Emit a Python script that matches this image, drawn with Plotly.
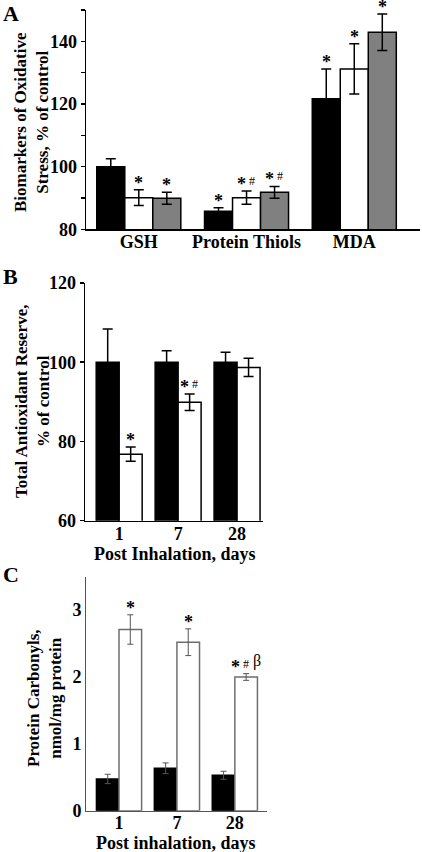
import plotly.graph_objects as go

# ---------------- data ----------------
# Panel A
a_categories = ["GSH", "Protein Thiols", "MDA"]
a_black = [100.0, 85.8, 121.7]
a_black_err = [2.5, 1.1, 9.5]
a_white = [90.1, 90.1, 131.2]
a_white_err = [2.5, 2.1, 8.0]
a_gray = [89.9, 91.8, 142.9]
a_gray_err = [1.9, 1.9, 5.8]
a_marks_black = ["", "*", "*"]
a_marks_white = ["*", "* #", "*"]
a_marks_gray = ["*", "* #", "*"]
a_yticks = [80, 90, 100, 110, 120, 130, 140, 150]
a_yticklabels = ["80", "", "100", "", "120", "", "140", ""]

# Panel B
b_categories = ["1", "7", "28"]
b_black = [100.0, 100.0, 100.0]
b_black_err = [8.4, 2.9, 2.5]
b_white = [76.8, 89.9, 98.7]
b_white_err = [1.8, 2.1, 2.3]
b_marks_white = ["*", "* #", ""]
b_yticks = [60, 80, 100, 120]

# Panel C
c_categories = ["1", "7", "28"]
c_black = [0.475, 0.635, 0.53]
c_black_err = [0.07, 0.08, 0.06]
c_white = [2.71, 2.52, 2.0]
c_white_err = [0.22, 0.20, 0.05]
c_marks_white = ["*", "*", "* # β"]
c_yticks = [0, 1, 2, 3]

# ---------------- style ----------------
W, H = 422, 852
SERIF = "Liberation Serif"
BARGAP = 0.22
MARK_STEP = 11
MARK_STYLE = {  # token -> (font size, bold, yshift)
    "*": (18, True, -5),
    "#": (12, False, 1),
    "β": (16, False, 2),
}


def px_x(p):
    return p / W


def px_y(p):
    return 1 - p / H


fig = go.Figure()
annotations = []


def add_marks(xa, ya, x, y, mark):
    tokens = mark.split()
    start = -MARK_STEP / 2 * (len(tokens) - 1)
    for k, tok in enumerate(tokens):
        size, bold, ys = MARK_STYLE[tok]
        annotations.append(dict(
            x=x, y=y, xref=xa, yref=ya,
            text=f"<b>{tok}</b>" if bold else tok, showarrow=False,
            xanchor="center", yanchor="bottom",
            xshift=start + MARK_STEP * k, yshift=ys,
            font=dict(family=SERIF, size=size, color="#000000"),
        ))


def add_group(xa, ya, cats, series, n, err_color="black", err_width=5, err_thick=1.5):
    for j, (vals, errs, fill, line_color, marks) in enumerate(series):
        fig.add_trace(go.Bar(
            x=cats, y=vals, xaxis=xa, yaxis=ya,
            marker=dict(color=fill, line=dict(color=line_color, width=1.5)),
            error_y=dict(type="data", array=errs, visible=True, color=err_color,
                         thickness=err_thick, width=err_width),
            showlegend=False, hoverinfo="skip",
        ))
        off = (j - (n - 1) / 2) * (1 - BARGAP) / n
        if marks is None:
            continue
        for i, m in enumerate(marks):
            if m:
                add_marks(xa, ya, i + off, vals[i] + errs[i], m)


# A
add_group("x", "y", a_categories, [
    (a_black, a_black_err, "black", "black", a_marks_black),
    (a_white, a_white_err, "white", "black", a_marks_white),
    (a_gray, a_gray_err, "#808080", "black", a_marks_gray),
], 3)
# B
add_group("x2", "y2", b_categories, [
    (b_black, b_black_err, "black", "black", None),
    (b_white, b_white_err, "white", "black", b_marks_white),
], 2)
# C
add_group("x3", "y3", c_categories, [
    (c_black, c_black_err, "black", "black", None),
    (c_white, c_white_err, "white", "#6e6e6e", c_marks_white),
], 2, err_color="#555555", err_width=3, err_thick=1)

tickfont = dict(family=SERIF, size=18, color="black")
titlefont = dict(family=SERIF, size=17, color="black")

axis_common = dict(showgrid=False, zeroline=False, showline=True, linecolor="black",
                   linewidth=1.5, tickfont=tickfont, automargin=False)

fig.update_layout(
    width=W, height=H,
    margin=dict(l=0, r=0, t=0, b=0),
    paper_bgcolor="white", plot_bgcolor="white",
    barmode="group", bargap=BARGAP, bargroupgap=0,
    font=dict(family=SERIF, color="black"),
    xaxis=dict(domain=[px_x(86), px_x(420)], anchor="y", type="category",
               range=[-0.49, 2.61], ticks="", tickprefix="<b>", ticksuffix="</b>",
               ticklabelstandoff=-4, **axis_common),
    yaxis=dict(domain=[px_y(229.3), px_y(10)], anchor="x", range=[80, 150],
               tickvals=a_yticks, ticktext=[f"<b>{t}</b>" if t else "" for t in a_yticklabels],
               ticks="outside", ticklen=4, tickwidth=1.5, tickcolor="black",
               **axis_common),
    xaxis2=dict(domain=[px_x(85), px_x(263)], anchor="y2", type="category",
                range=[-0.58, 2.44], ticks="", tickprefix="<b>", ticksuffix="</b>",
                ticklabelstandoff=-4, **axis_common),
    yaxis2=dict(domain=[px_y(520.7), px_y(283)], anchor="x2", range=[60, 120],
                tickvals=b_yticks, ticktext=[f"<b>{t}</b>" for t in b_yticks],
                ticks="outside", ticklen=4, tickwidth=1.5, tickcolor="black",
                **axis_common),
    xaxis3=dict(domain=[px_x(86), px_x(266.7)], anchor="y3", type="category",
                range=[-0.57, 2.55], ticks="", tickprefix="<b>", ticksuffix="</b>",
                ticklabelstandoff=-4,
                **{**axis_common, "linecolor": "#555555", "linewidth": 1}),
    yaxis3=dict(domain=[px_y(810.7), px_y(576.7)], anchor="x3", range=[0, 3.5],
                tickvals=c_yticks, ticktext=[f"<b>{t}</b>" for t in c_yticks],
                ticks="",
                **{**axis_common, "linecolor": "#555555", "linewidth": 1}),
)

# axis titles and panel letters as paper annotations
annotations += [
    dict(x=px_x(32), y=px_y(122), xref="paper", yref="paper", textangle=-90,
         text="<b>Biomarkers of Oxidative<br>Stress, % of control</b>", showarrow=False,
         xanchor="center", yanchor="middle", font=titlefont),
    dict(x=px_x(32), y=px_y(402), xref="paper", yref="paper", textangle=-90,
         text="<b>Total Antioxidant Reserve,<br>% of control</b>", showarrow=False,
         xanchor="center", yanchor="middle", font=titlefont),
    dict(x=px_x(44), y=px_y(698), xref="paper", yref="paper", textangle=-90,
         text="<b>Protein Carbonyls,<br>nmol/mg protein</b>", showarrow=False,
         xanchor="center", yanchor="middle", font=titlefont),
    dict(x=px_x(175), y=px_y(554), xref="paper", yref="paper",
         text="<b>Post Inhalation, days</b>", showarrow=False,
         xanchor="center", yanchor="middle", font=dict(family=SERIF, size=18, color="black")),
    dict(x=px_x(176), y=px_y(843), xref="paper", yref="paper",
         text="<b>Post inhalation, days</b>", showarrow=False,
         xanchor="center", yanchor="middle", font=dict(family=SERIF, size=18, color="black")),
    dict(x=px_x(1), y=px_y(13), xref="paper", yref="paper", text="<b>A</b>",
         showarrow=False, xanchor="left", yanchor="middle",
         font=dict(family=SERIF, size=22, color="black")),
    dict(x=px_x(1), y=px_y(276), xref="paper", yref="paper", text="<b>B</b>",
         showarrow=False, xanchor="left", yanchor="middle",
         font=dict(family=SERIF, size=22, color="black")),
    dict(x=px_x(1), y=px_y(574), xref="paper", yref="paper", text="<b>C</b>",
         showarrow=False, xanchor="left", yanchor="middle",
         font=dict(family=SERIF, size=22, color="black")),
]
fig.update_layout(annotations=annotations)

fig.write_html(
    "out.html",
    config={"displayModeBar": False, "staticPlot": True},
    post_script="document.body.style.margin='0';document.body.style.padding='0';"
                "document.documentElement.style.overflow='hidden';",
)
